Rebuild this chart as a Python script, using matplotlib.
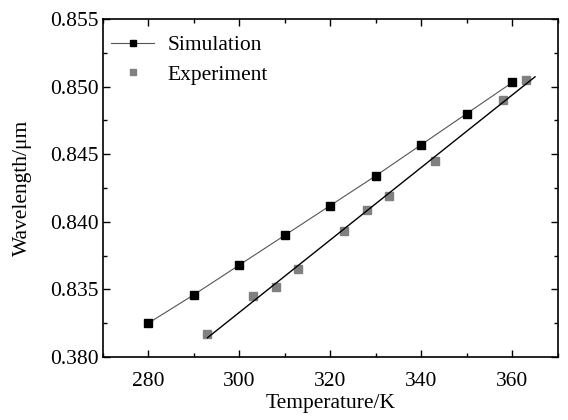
import matplotlib
matplotlib.use("Agg")
import matplotlib.pyplot as plt
from matplotlib.ticker import MultipleLocator
import numpy as np

plt.rcParams['font.family'] = ['Liberation Serif', 'DejaVu Serif']

# simulated peak wavelength vs temperature
simTemp = [280, 290, 300, 310, 320, 330, 340, 350, 360]
simWave = [0.8325, 0.8346, 0.8368, 0.8390, 0.8412, 0.8434, 0.8457, 0.8480, 0.8503]

# measured points
expTemp = [293, 303, 308, 313, 323, 328, 333, 343, 358, 363]
expWave = [0.8317, 0.8345, 0.8352, 0.8365, 0.8393, 0.8409, 0.8419, 0.8445, 0.8490, 0.8505]

yTicks = [0.830, 0.835, 0.840, 0.845, 0.850, 0.855]
yTickLabels = ['0.380', '0.835', '0.840', '0.845', '0.850', '0.855']
xTicks = [280, 300, 320, 340, 360]

FS = 15.5

fig = plt.figure(figsize=(5.68, 4.2), dpi=100)
ax = fig.add_axes([0.181, 0.15, 0.801, 0.805])

ax.plot(simTemp, simWave, color='#555555', linewidth=0.8,
        marker='s', markersize=5.6, markerfacecolor='black', markeredgecolor='black',
        label='Simulation')
ax.plot(expTemp, expWave, linestyle='none', marker='s', markersize=5.5,
        markerfacecolor='#808080', markeredgecolor='#808080', label='Experiment')

# linear fit through the measured points
k, b = np.polyfit(expTemp, expWave, 1)
xFit = np.array([293, 365])
ax.plot(xFit, k * xFit + b, color='black', linewidth=1.0)

ax.set_xlim(270, 370)
ax.set_ylim(0.830, 0.855)
ax.set_xticks(xTicks)
ax.set_yticks(yTicks)
ax.set_yticklabels(yTickLabels)
ax.xaxis.set_minor_locator(MultipleLocator(10))
ax.yaxis.set_minor_locator(MultipleLocator(0.0025))

ax.tick_params(which='both', direction='in', top=True, right=True, labelsize=FS)
ax.tick_params(which='major', length=5, width=1)
ax.tick_params(which='minor', length=3, width=1)
ax.tick_params(axis='x', pad=11)
ax.tick_params(axis='y', pad=3)
for s in ax.spines.values():
  s.set_linewidth(1.2)

ax.set_xlabel('Temperature/K', fontsize=FS, labelpad=2)
ax.set_ylabel('Wavelength/μm', fontsize=FS, labelpad=13)

ax.legend(loc='upper left', bbox_to_anchor=(-0.01, 0.99), frameon=False,
          fontsize=FS, handlelength=2.0, handletextpad=0.6, labelspacing=0.45,
          borderaxespad=0.2, markerscale=0.8)

fig.savefig('out.png', dpi=100)
